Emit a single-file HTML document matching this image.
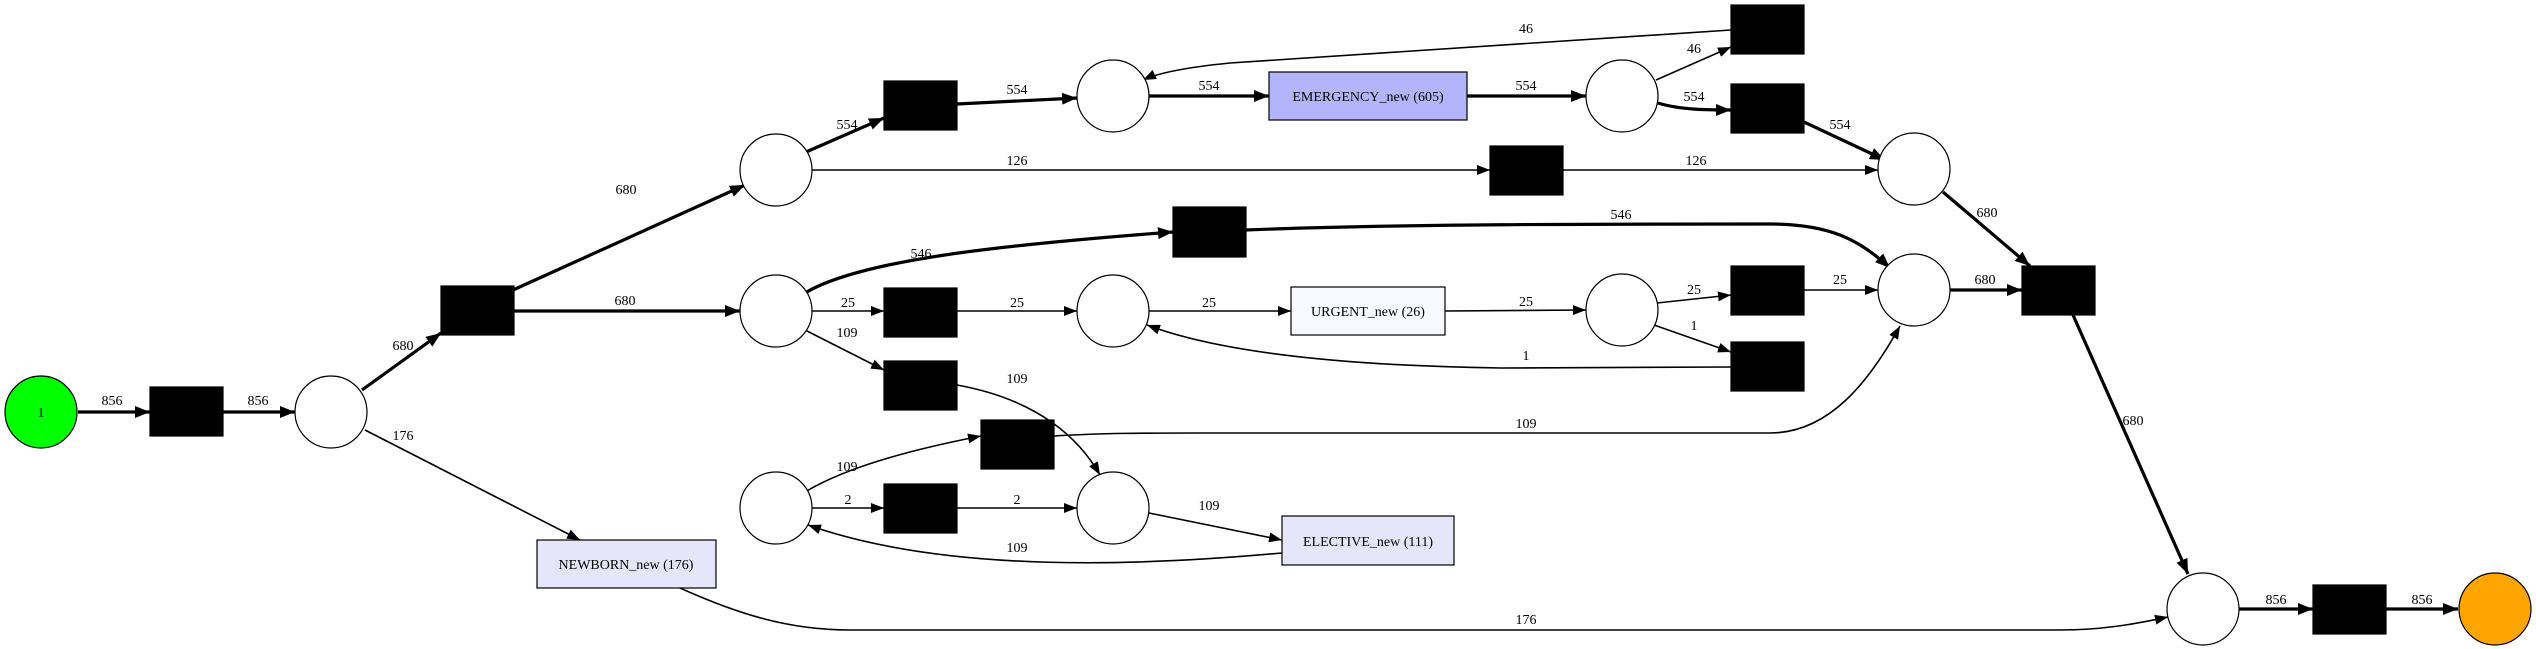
<!DOCTYPE html>
<html><head><meta charset="utf-8"><style>
html,body{margin:0;padding:0;background:#fff;}
svg{display:block;}
text{font-family:"Liberation Serif",serif;font-size:14px;fill:#000;}
.n{font-size:16px;}
</style></head><body>
<svg width="2536" height="649" viewBox="0 0 2536 649" xmlns="http://www.w3.org/2000/svg">
<defs>
<marker id="a" markerUnits="userSpaceOnUse" markerWidth="14" markerHeight="10" refX="13" refY="5" orient="auto"><path d="M0,0 L13,5 L0,10 z" fill="#000"/></marker>
<marker id="b" markerUnits="userSpaceOnUse" markerWidth="16" markerHeight="12" refX="15" refY="6" orient="auto"><path d="M0,0 L15,6 L0,12 z" fill="#000"/></marker>
</defs>
<g fill="none" stroke="#000">
<g stroke-width="3.2" marker-end="url(#b)">
<path d="M78,412 L150,412"/>
<path d="M223,412 L295,412"/>
<path d="M362,390 L441,333"/>
<path d="M513,311 L740,311"/>
<path d="M513,290 L745,185"/>
<path d="M806,152 L884,118"/>
<path d="M957,104 L1077,98"/>
<path d="M1149,96 L1269,96"/>
<path d="M1467,96 L1586,96"/>
<path d="M1658,103 C1680,110 1710,110 1731,110"/>
<path d="M1804,122 L1885,160"/>
<path d="M1943,192 L2030,266"/>
<path d="M805,293 C860,260 1000,245 1173,232"/>
<path d="M1245,230 C1400,224 1600,224 1770,224 C1830,224 1860,240 1890,268"/>
<path d="M1950,290 L2022,290"/>
<path d="M2073,315 L2188,574"/>
<path d="M2239,609 L2313,609"/>
<path d="M2386,609 L2458,609"/>
</g>
<g stroke-width="1.6" marker-end="url(#a)">
<path d="M365,430 L580,540"/>
<path d="M680,588 C740,615 790,630 850,630 L2060,630 C2100,630 2130,625 2168,617"/>
<path d="M1656,80 L1731,47"/>
<path d="M1731,30 L1230,63 C1190,67 1160,72 1143,80"/>
<path d="M812,170 L1490,170"/>
<path d="M1563,170 L1878,170"/>
<path d="M812,311 L884,311"/>
<path d="M957,311 L1077,311"/>
<path d="M1149,311 L1291,311"/>
<path d="M1445,311 L1586,310"/>
<path d="M1657,303 L1731,295"/>
<path d="M1654,325 L1731,352"/>
<path d="M1731,367 L1500,368 C1300,365 1200,345 1147,325"/>
<path d="M1804,290 L1878,290"/>
<path d="M805,330 L884,370"/>
<path d="M957,385 C1040,400 1080,440 1100,475"/>
<path d="M805,492 C850,465 920,448 981,436"/>
<path d="M1054,436 C1100,433 1150,433 1200,433 L1770,433 C1830,433 1870,380 1900,326"/>
<path d="M812,508 L884,508"/>
<path d="M957,508 L1077,508"/>
<path d="M1149,513 L1282,540"/>
<path d="M1282,553 C1150,565 950,575 808,525"/>
</g>
</g>
<g stroke="#000" stroke-width="1.2">
<circle cx="41" cy="412" r="36" fill="#00ff00"/>
<circle cx="2495" cy="609" r="36" fill="#ffa500"/>
<g fill="#fff">
<circle cx="331" cy="412" r="36"/>
<circle cx="776" cy="170" r="36"/>
<circle cx="776" cy="311" r="36"/>
<circle cx="776" cy="508" r="36"/>
<circle cx="1113" cy="96" r="36"/>
<circle cx="1113" cy="311" r="36"/>
<circle cx="1113" cy="508" r="36"/>
<circle cx="1622" cy="96" r="36"/>
<circle cx="1622" cy="310" r="36"/>
<circle cx="1914" cy="169" r="36"/>
<circle cx="1914" cy="290" r="36"/>
<circle cx="2203" cy="609" r="36"/>
</g>
<g fill="#000">
<rect x="150" y="387" width="73" height="49"/>
<rect x="441" y="286" width="73" height="49"/>
<rect x="884" y="81" width="73" height="49"/>
<rect x="1731" y="5" width="73" height="49"/>
<rect x="1731" y="84" width="73" height="49"/>
<rect x="1490" y="146" width="73" height="49"/>
<rect x="1173" y="207" width="73" height="50"/>
<rect x="884" y="288" width="73" height="49"/>
<rect x="1731" y="266" width="73" height="49"/>
<rect x="1731" y="342" width="73" height="49"/>
<rect x="884" y="361" width="73" height="49"/>
<rect x="981" y="420" width="73" height="49"/>
<rect x="884" y="484" width="73" height="49"/>
<rect x="2022" y="266" width="73" height="49"/>
<rect x="2313" y="585" width="73" height="49"/>
</g>
<rect x="1269" y="72" width="198" height="48" fill="#b4b4fb"/>
<rect x="1291" y="287" width="154" height="48" fill="#f8f8ff"/>
<rect x="1282" y="516" width="172" height="49" fill="#e6e6fa"/>
<rect x="537" y="540" width="179" height="48" fill="#e6e6fa"/>
</g>
<g class="n" text-anchor="middle">
<text x="41" y="417">1</text>
<text x="1368" y="101">EMERGENCY_new (605)</text>
<text x="1368" y="316">URGENT_new (26)</text>
<text x="1368" y="546">ELECTIVE_new (111)</text>
<text x="626" y="569">NEWBORN_new (176)</text>
</g>
<g text-anchor="middle">
<text x="112" y="405">856</text>
<text x="258" y="405">856</text>
<text x="403" y="350">680</text>
<text x="625" y="305">680</text>
<text x="626" y="194">680</text>
<text x="403" y="440">176</text>
<text x="1526" y="624">176</text>
<text x="847" y="129">554</text>
<text x="1017" y="94">554</text>
<text x="1209" y="90">554</text>
<text x="1526" y="90">554</text>
<text x="1694" y="53">46</text>
<text x="1694" y="101">554</text>
<text x="1526" y="33">46</text>
<text x="1017" y="165">126</text>
<text x="1696" y="165">126</text>
<text x="1840" y="129">554</text>
<text x="1987" y="217">680</text>
<text x="921" y="258">546</text>
<text x="1621" y="219">546</text>
<text x="848" y="307">25</text>
<text x="1017" y="307">25</text>
<text x="1209" y="307">25</text>
<text x="1526" y="306">25</text>
<text x="1694" y="294">25</text>
<text x="1694" y="330">1</text>
<text x="1526" y="360">1</text>
<text x="1840" y="284">25</text>
<text x="1985" y="284">680</text>
<text x="2133" y="425">680</text>
<text x="847" y="337">109</text>
<text x="1017" y="383">109</text>
<text x="847" y="471">109</text>
<text x="1526" y="428">109</text>
<text x="848" y="504">2</text>
<text x="1017" y="504">2</text>
<text x="1209" y="510">109</text>
<text x="1017" y="552">109</text>
<text x="2276" y="604">856</text>
<text x="2422" y="604">856</text>
</g>
</svg>
</body></html>
